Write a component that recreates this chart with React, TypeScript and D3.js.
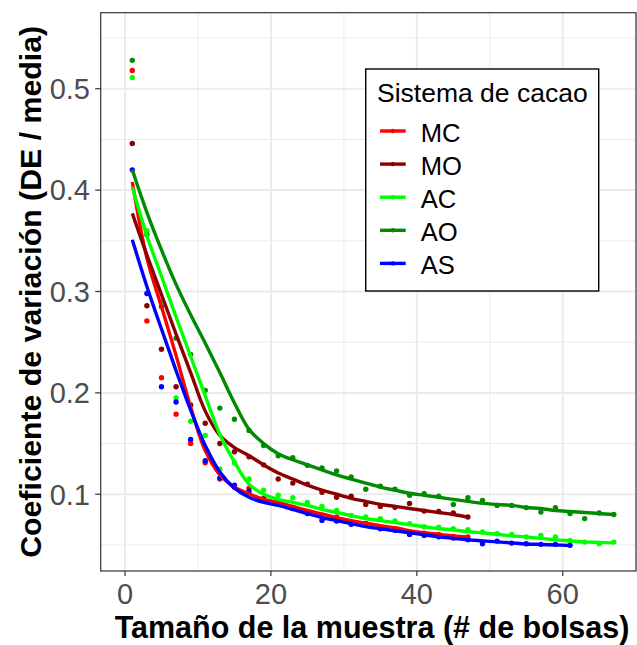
import React from "react";
import * as d3 from "d3";

// Sample sizes (number of bags) at which the CV was evaluated
const sizesTo47 = [1, 3, 5, 7, 9, 11, 13, 15, 17, 19, 21, 23, 25, 27, 29, 31, 33, 35, 37, 39, 41, 43, 45, 47];
const sizesTo61 = [...sizesTo47, 49, 51, 53, 55, 57, 59, 61];
const sizesTo67 = [...sizesTo61, 63, 65, 67];

// Observed coefficient of variation per cacao system
const mcObs = [0.518, 0.271, 0.215, 0.179, 0.150, 0.131, 0.115, 0.107, 0.106, 0.096, 0.092, 0.0858, 0.0824, 0.079, 0.0775, 0.0726, 0.071, 0.068, 0.066, 0.0627, 0.0617, 0.0604, 0.0584, 0.0578];
const moObs = [0.446, 0.286, 0.243, 0.206, 0.188, 0.170, 0.150, 0.142, 0.137, 0.129, 0.115, 0.111, 0.110, 0.102, 0.097, 0.098, 0.090, 0.088, 0.087, 0.091, 0.0834, 0.083, 0.0815, 0.0775];
const acObs = [0.511, 0.360, 0.290, 0.195, 0.172, 0.158, 0.125, 0.131, 0.115, 0.104, 0.099, 0.0966, 0.092, 0.088, 0.084, 0.079, 0.0775, 0.076, 0.0736, 0.071, 0.068, 0.0676, 0.066, 0.065, 0.0627, 0.061, 0.0604, 0.0578, 0.0594, 0.0578, 0.0545, 0.0528, 0.0512, 0.0528];
const aoObs = [0.528, 0.356, 0.285, 0.254, 0.238, 0.2025, 0.185, 0.174, 0.163, 0.148, 0.138, 0.136, 0.1285, 0.126, 0.123, 0.117, 0.105, 0.108, 0.105, 0.099, 0.1006, 0.098, 0.090, 0.0966, 0.094, 0.089, 0.089, 0.0868, 0.0824, 0.0868, 0.081, 0.076, 0.0815, 0.080];
const asObs = [0.420, 0.298, 0.206, 0.191, 0.154, 0.133, 0.116, 0.109, 0.103, 0.095, 0.090, 0.0868, 0.081, 0.0742, 0.0736, 0.0703, 0.071, 0.066, 0.0644, 0.0604, 0.0594, 0.058, 0.0568, 0.0552, 0.0512, 0.0538, 0.0518, 0.0512, 0.0506, 0.0506, 0.0496];

// Fitted curves per cacao system
const mcFit = [0.408, 0.333, 0.285, 0.237, 0.186, 0.143, 0.119, 0.107, 0.1005, 0.095, 0.092, 0.088, 0.084, 0.0805, 0.077, 0.074, 0.0715, 0.069, 0.067, 0.064, 0.062, 0.0605, 0.059, 0.058];
const moFit = [0.377, 0.336, 0.297, 0.258, 0.220, 0.182, 0.158, 0.146, 0.138, 0.129, 0.121, 0.115, 0.109, 0.104, 0.100, 0.096, 0.093, 0.090, 0.088, 0.086, 0.084, 0.082, 0.080, 0.0775];
const acFit = [0.403, 0.355, 0.315, 0.275, 0.236, 0.197, 0.159, 0.132, 0.110, 0.100, 0.095, 0.092, 0.089, 0.085, 0.082, 0.079, 0.076, 0.074, 0.072, 0.070, 0.068, 0.066, 0.065, 0.063, 0.062, 0.0605, 0.059, 0.058, 0.0565, 0.055, 0.054, 0.053, 0.0525, 0.052];
const aoFit = [0.420, 0.378, 0.341, 0.307, 0.277, 0.249, 0.220, 0.190, 0.164, 0.150, 0.140, 0.134, 0.129, 0.124, 0.119, 0.115, 0.111, 0.107, 0.104, 0.101, 0.099, 0.097, 0.095, 0.093, 0.091, 0.090, 0.089, 0.087, 0.086, 0.084, 0.083, 0.082, 0.081, 0.080];
const asFit = [0.351, 0.305, 0.263, 0.222, 0.183, 0.148, 0.122, 0.106, 0.097, 0.092, 0.089, 0.085, 0.081, 0.077, 0.074, 0.071, 0.068, 0.066, 0.064, 0.062, 0.060, 0.058, 0.0565, 0.055, 0.054, 0.053, 0.052, 0.051, 0.0505, 0.050, 0.0495];

const systemNames = ["MC", "MO", "AC", "AO", "AS"];
const systemColors = ["#FF0000", "#8B0000", "#00FF00", "#008B00", "#0000FF"];

const xTicks = [0, 20, 40, 60];
const xMinor = [10, 30, 50, 70];
const yTicks = [0.1, 0.2, 0.3, 0.4, 0.5];
const yMinor = [0.05, 0.15, 0.25, 0.35, 0.45, 0.55];

const series = [
  { name: systemNames[0], color: systemColors[0], n: sizesTo47, obs: mcObs, fit: mcFit },
  { name: systemNames[1], color: systemColors[1], n: sizesTo47, obs: moObs, fit: moFit },
  { name: systemNames[2], color: systemColors[2], n: sizesTo67, obs: acObs, fit: acFit },
  { name: systemNames[3], color: systemColors[3], n: sizesTo67, obs: aoObs, fit: aoFit },
  { name: systemNames[4], color: systemColors[4], n: sizesTo61, obs: asObs, fit: asFit },
];

const W = 637;
const H = 645;
const panel = { left: 100.7, right: 636, top: 12.7, bottom: 571 };
const FONT = "'Liberation Sans', Arial, Helvetica, sans-serif";

export default function App() {
  const x = d3.scaleLinear().domain([-3.33, 70.04]).range([panel.left, panel.right]);
  const y = d3.scaleLinear().domain([0.0243, 0.575]).range([panel.bottom, panel.top]);

  const line = (ns: number[], vs: number[]) =>
    d3
      .line<number>()
      .x((_, i) => x(ns[i]))
      .y((v) => y(v))
      .curve(d3.curveCatmullRom.alpha(0.5))(vs) || "";

  const legend = { left: 365.7, top: 69, right: 598.7, bottom: 291 };
  const rowY = (i: number) => 132.5 + i * 33.1;

  return (
    <div style={{ position: "absolute", left: 0, top: 0 }}>
      <svg width={W} height={H} style={{ display: "block", background: "#fff" }}>
        <rect x={0} y={0} width={W} height={H} fill="#fff" />
        {/* panel grid */}
        <g>
          {xMinor.map((t) => (
            <line key={"xm" + t} x1={x(t)} x2={x(t)} y1={panel.top} y2={panel.bottom} stroke="#EBEBEB" strokeWidth={1} />
          ))}
          {yMinor.map((t) => (
            <line key={"ym" + t} x1={panel.left} x2={panel.right} y1={y(t)} y2={y(t)} stroke="#EBEBEB" strokeWidth={1} />
          ))}
          {xTicks.map((t) => (
            <line key={"xg" + t} x1={x(t)} x2={x(t)} y1={panel.top} y2={panel.bottom} stroke="#EBEBEB" strokeWidth={2} />
          ))}
          {yTicks.map((t) => (
            <line key={"yg" + t} x1={panel.left} x2={panel.right} y1={y(t)} y2={y(t)} stroke="#EBEBEB" strokeWidth={2} />
          ))}
        </g>

        {/* observed points */}
        <g>
          {series.map((s) =>
            s.obs.map((v, i) => <circle key={s.name + i} cx={x(s.n[i])} cy={y(v)} r={2.7} fill={s.color} />)
          )}
        </g>

        {/* fitted curves */}
        <g fill="none" strokeLinejoin="round" strokeLinecap="butt">
          {series.map((s) => (
            <path key={s.name} d={line(s.n, s.fit)} stroke={s.color} strokeWidth={3.4} />
          ))}
        </g>

        {/* panel border */}
        <rect
          x={panel.left}
          y={panel.top}
          width={panel.right - panel.left}
          height={panel.bottom - panel.top}
          fill="none"
          stroke="#333333"
          strokeWidth={1.2}
        />

        {/* axes */}
        <g fontFamily={FONT} fill="#4D4D4D" fontSize={29}>
          {xTicks.map((t) => (
            <g key={"xt" + t}>
              <line x1={x(t)} x2={x(t)} y1={panel.bottom} y2={panel.bottom + 5} stroke="#333333" strokeWidth={1.2} />
              <text x={x(t)} y={604} textAnchor="middle">
                {t}
              </text>
            </g>
          ))}
          {yTicks.map((t) => (
            <g key={"yt" + t}>
              <line x1={panel.left - 5.5} x2={panel.left} y1={y(t)} y2={y(t)} stroke="#333333" strokeWidth={1.2} />
              <text x={90} y={y(t) + 10.3} textAnchor="end">
                {d3.format(".1f")(t)}
              </text>
            </g>
          ))}
        </g>

        <text x={372} y={638} textAnchor="middle" fontFamily={FONT} fontWeight="bold" fontSize={30.5} fill="#000">
          Tamaño de la muestra (# de bolsas)
        </text>
        <text
          transform={`translate(41, ${(panel.top + panel.bottom) / 2}) rotate(-90)`}
          textAnchor="middle"
          fontFamily={FONT}
          fontWeight="bold"
          fontSize={30.3}
          fill="#000"
        >
          Coeficiente de variación (DE / media)
        </text>

        {/* legend */}
        <g fontFamily={FONT}>
          <rect
            x={legend.left}
            y={legend.top}
            width={legend.right - legend.left}
            height={legend.bottom - legend.top}
            fill="#fff"
            stroke="#000"
            strokeWidth={1.4}
          />
          <text x={377} y={101.7} fontSize={26.5} fill="#000">
            Sistema de cacao
          </text>
          {series.map((s, i) => (
            <g key={"lg" + s.name}>
              <line x1={380} x2={405.7} y1={rowY(i) - 1.5} y2={rowY(i) - 1.5} stroke={s.color} strokeWidth={3.4} />
              <circle cx={392.8} cy={rowY(i) - 1.5} r={2.2} fill={s.color} />
              <text x={420.7} y={rowY(i) + 9.2} fontSize={25.6} fill="#000">
                {s.name}
              </text>
            </g>
          ))}
        </g>
      </svg>
    </div>
  );
}
